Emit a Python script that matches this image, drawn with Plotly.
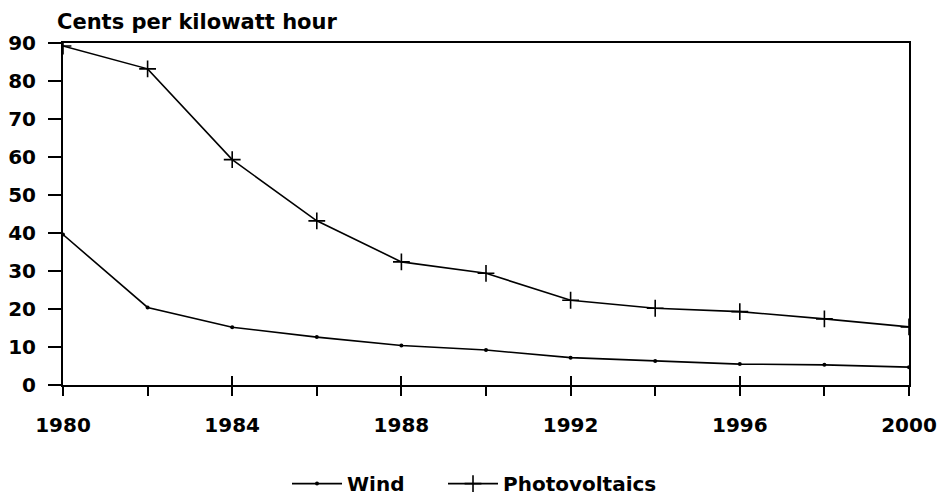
import plotly.graph_objects as go

years = [1980, 1982, 1984, 1986, 1988, 1990, 1992, 1994, 1996, 1998, 2000]
wind = [39.6, 20.4, 15.2, 12.6, 10.4, 9.2, 7.2, 6.3, 5.5, 5.3, 4.7]
photovoltaics = [89.2, 83.2, 59.3, 43.2, 32.4, 29.4, 22.3, 20.2, 19.3, 17.4, 15.3]
x_tick_labels = ["1980", "1984", "1988", "1992", "1996", "2000"]
y_tick_vals = [0, 10, 20, 30, 40, 50, 60, 70, 80, 90]

FONT = "DejaVu Sans, Verdana, sans-serif"
FS = 20

fig = go.Figure()
fig.add_trace(go.Scatter(
    x=years, y=wind, name="Wind", mode="lines+markers",
    line=dict(color="black", width=1.6),
    marker=dict(symbol="circle", size=4, color="black"),
    legendwidth=91,
))
fig.add_trace(go.Scatter(
    x=years, y=photovoltaics, name="Photovoltaics", mode="lines+markers",
    line=dict(color="black", width=1.6),
    marker=dict(symbol="cross-thin-open", size=12, color="black",
                line=dict(color="black", width=1.6)),
    legendwidth=170,
))
# invisible trace on overlay axis to carry the upward tick marks
fig.add_trace(go.Scatter(x=[1980, 2000], y=[0, 0], xaxis="x2", mode="lines",
                         line=dict(width=0), showlegend=False, hoverinfo="skip"))

fig.update_layout(
    width=941, height=496,
    margin=dict(l=63, r=32, t=43, b=111, autoexpand=False),
    paper_bgcolor="white", plot_bgcolor="white",
    font=dict(family=FONT, size=FS, color="black", weight="bold"),
    showlegend=True,
    legend=dict(orientation="h", xref="container", yref="container",
                x=0.305, xanchor="left", y=0.025, yanchor="middle",
                font=dict(family=FONT, size=FS, weight="bold"), itemwidth=50,
                bgcolor="rgba(0,0,0,0)"),
    annotations=[dict(text="Cents per kilowatt hour", xref="paper", yref="paper",
                      x=-0.009, y=1.02, xanchor="left", yanchor="bottom",
                      showarrow=False, font=dict(family=FONT, size=21, weight="bold"))],
    xaxis2=dict(overlaying="x", range=[1980, 2000], side="bottom",
                tickvals=[int(t) for t in x_tick_labels], showticklabels=False,
                ticks="inside", ticklen=9, tickwidth=1.6, tickcolor="black",
                showgrid=False, zeroline=False, showline=False),
    xaxis=dict(
        range=[1980, 2000], tickvals=[int(t) for t in x_tick_labels], ticktext=x_tick_labels,
        showgrid=False, zeroline=False, showline=True, linecolor="black", linewidth=2,
        mirror=True, ticks="outside", ticklen=9, tickwidth=1.6, tickcolor="black",
        minor=dict(tickvals=years, ticks="outside", ticklen=9, tickwidth=1.6, tickcolor="black"),
        tickfont=dict(family=FONT, size=FS, weight="bold"), ticklabelstandoff=12,
    ),
)
fig.update_yaxes(
    range=[0, 90], tickvals=y_tick_vals,
    showgrid=False, zeroline=False, showline=True, linecolor="black", linewidth=2,
    mirror=True, ticks="outside", ticklen=13, tickwidth=1.6, tickcolor="black",
    tickfont=dict(family=FONT, size=FS, weight="bold"), ticklabelstandoff=8,
)

fig.write_html(
    "out.html",
    config={"displayModeBar": False},
    post_script="document.body.style.margin='0';document.body.style.padding='0';"
                "document.documentElement.style.overflow='hidden';",
)
